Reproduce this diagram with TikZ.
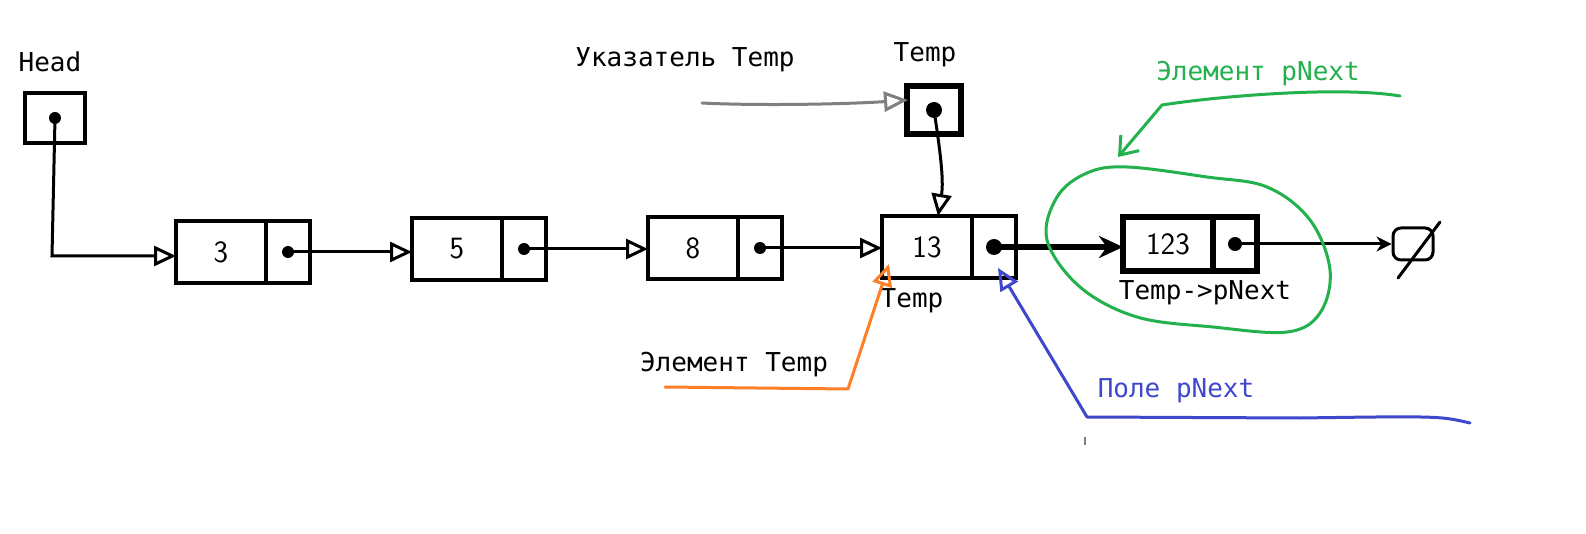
\documentclass[tikz,border=0pt]{standalone}
\usepackage{fontspec}
\setmonofont{DejaVu Sans Mono}
\usetikzlibrary{arrows.meta}
\definecolor{pgreen}{HTML}{22B14C}
\definecolor{porange}{HTML}{FF7F27}
\definecolor{pblue}{HTML}{3F48CC}
\definecolor{pgray}{HTML}{7F7F7F}
\begin{document}
\begin{tikzpicture}[x=1pt,y=-1pt,
  lbl/.style={font=\fontsize{26}{30}\selectfont\ttfamily, inner sep=0pt},
  digit/.style={font=\fontsize{31}{36}\selectfont\sffamily},
  datacell/.style={draw, line width=3.5pt, minimum width=90pt, minimum height=62pt, inner sep=0pt, outer sep=0pt, digit},
  ptrcell/.style={draw, line width=3.5pt, minimum width=44pt, minimum height=62pt, inner sep=0pt, outer sep=0pt},
  link/.style={line width=3pt, -{Triangle[open,length=22pt,width=20pt,line width=3pt]}},
  dot/.style={circle, fill, inner sep=0pt, minimum size=12pt},
  colline/.style={line width=3pt, line cap=round, line join=round}]
\useasboundingbox (0,0) rectangle (1586,534);
\fill[white] (0,0) rectangle (1586,534);

% pointer Head
\node[draw, line width=3.5pt, minimum width=60pt, minimum height=50pt] (head) at (55,118) {};
\node[dot] (headdot) at (head.center) {};
\node[lbl] (headlbl) at (50,62) {Head};

% list elements
\node[datacell] (n1d) at (221,252) {3};
\node[ptrcell, anchor=west] (n1p) at (n1d.east) {};
\node[dot] (n1dot) at (n1p.center) {};
\node[datacell] (n2d) at (457,249) {5};
\node[ptrcell, anchor=west] (n2p) at (n2d.east) {};
\node[dot] (n2dot) at (n2p.center) {};
\node[datacell] (n3d) at (693,248) {8};
\node[ptrcell, anchor=west] (n3p) at (n3d.east) {};
\node[dot] (n3dot) at (n3p.center) {};
\node[datacell] (n4d) at (927,247) {13};
\node[ptrcell, anchor=west] (n4p) at (n4d.east) {};
\node[dot, minimum size=16pt] (n4dot) at (n4p.center) {};
\node[datacell, line width=6pt, minimum height=54pt] (n5d) at (1168,244) {123};
\node[ptrcell, line width=6pt, minimum height=54pt, anchor=west] (n5p) at (n5d.east) {};
\node[dot, minimum size=14pt] (n5dot) at (n5p.center) {};

% null
\node[draw, line width=3pt, rounded corners=8pt, minimum width=40pt, minimum height=32pt] (null) at (1413,244) {};
\draw[line width=3pt, line cap=round] ([shift={(27,-22)}]null.center) -- ([shift={(-15,34)}]null.center);

% pointer Temp
\node[draw, line width=6pt, minimum width=54pt, minimum height=48pt] (tp) at (934,110) {};
\node[dot, minimum size=16pt] (tpdot) at (tp.center) {};
\node[lbl] (tplbl) at (925,55) {Temp};

% labels
\node[lbl] (ukaz) at (685,60) {Указатель Temp};
\node[lbl] (templbl) at (912,301) {Temp};
\node[lbl] (nextlbl) at (1205,293) {Temp->pNext};
\node[lbl, text=pgreen] (elnext) at (1258,74) {Элемент pNext};
\node[lbl] (eltemp) at (734,365) {Элемент Temp};
\node[lbl, text=pblue] (pole) at (1176,391) {Поле pNext};

% links
\draw[link] (headdot.center) -- (52,256) -- (n1d.west |- 0,256);
\draw[link] (n1dot.center) -- (n1dot.center -| n2d.west);
\draw[link] (n2dot.center) -- (n2dot.center -| n3d.west);
\draw[link] (n3dot.center) -- (n3dot.center -| n4d.west);
\draw[line width=6pt, -{Stealth[length=24pt,width=22pt]}] (n4dot.center) -- (n4dot.center -| n5d.west);
\draw[line width=3pt, -{Stealth[length=15pt,width=15pt]}] (n5dot.center) -- (n5dot.center -| null.west);
\draw[link] (tpdot.center) .. controls (940,150) and (944,180) .. (n4d.north -| 938,0);

% gray pointer arrow
\coordinate (gstart) at (702,103);
\draw[line width=3pt, pgray, line cap=round, -{Triangle[open,length=24pt,width=20pt,line width=3pt]}] (gstart) .. controls (760,106) and (850,104) .. ([shift={(4,-10)}]tp.west);

% green outline around Temp->pNext
\draw[colline, pgreen] plot[smooth cycle, tension=0.6] coordinates {
  (1127,167) (1207,177) (1267,187) (1310,220) (1330,270) (1320,313)
  (1287,332) (1213,327) (1137,317) (1080,287) (1047,240) (1057,197) (1087,173)};
\coordinate (gr) at (1400,96);
\coordinate (gtip) at (1118,157);
\draw[colline, pgreen, -{Straight Barb[length=16pt,width=24pt,line width=3pt]}] (gr) .. controls (1340,86) and (1220,96) .. (1162,105) -- (gtip);

% orange pointer
\coordinate (ostart) at (665,387);
\draw[colline, porange, -{Triangle[open,length=22pt,width=20pt,line width=3pt]}] (ostart) -- (848,389) -- ([shift={(-38,-14)}]n4d.south);

% blue pointer
\coordinate (bstart) at (1470,423);
\draw[colline, pblue, -{Triangle[open,length=22pt,width=20pt,line width=3pt]}] (bstart) .. controls (1440,416) .. (1300,418) -- (1087,417) -- ([shift={(4,-10)}]n4p.south);
\draw[line width=1.5pt, pgray] (1085,437) -- (1085,445);
\end{tikzpicture}
\end{document}
